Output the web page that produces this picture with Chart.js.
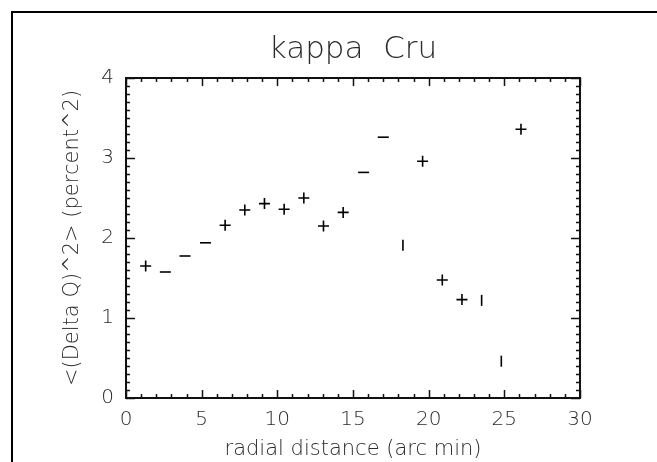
<!DOCTYPE html>
<html>
<head>
<meta charset="utf-8">
<title>kappa Cru</title>
<script src="https://cdn.jsdelivr.net/npm/chart.js@4/dist/chart.umd.min.js"></script>
<style>
  html, body { margin: 0; padding: 0; background: #fff; overflow: hidden; }
  #wrap { position: relative; width: 657px; height: 462px; }
  #frame { position: absolute; left: 11px; top: 11px; width: 800px; height: 600px; border: 2px solid #000; }
  canvas { position: absolute; left: 0; top: 0; }
</style>
</head>
<body>
<div id="wrap">
  <div id="frame"></div>
  <canvas id="myChart" width="657" height="462"></canvas>
</div>
<script>
// radial distance (arc min) and <(Delta Q)^2> (percent^2)
var radius = [1.3, 2.6, 3.9, 5.25, 6.55, 7.85, 9.15, 10.45, 11.75, 13.05,
              14.35, 15.7, 17.0, 18.3, 19.6, 20.9, 22.2, 23.5, 24.8, 26.1];
var deltaQ = [1.65, 1.575, 1.775, 1.94, 2.16, 2.35, 2.43, 2.36, 2.50, 2.15,
              2.32, 2.82, 3.26, 1.91, 2.96, 1.475, 1.23, 1.22, 0.46, 3.36];
// how each plus sign came out in the picture: full, only the bar, only the stem
var marks = ['+', '-', '-', '-', '+', '+', '+', '+', '+', '+',
             '+', '-', '-', '|', '+', '+', '+', '|', '|', '+'];
var xTicks = [0, 5, 10, 15, 20, 25, 30];
var yTicks = [0, 1, 2, 3, 4];

var points = radius.map(function (r, i) { return { x: r, y: deltaQ[i] }; });

// IDL style box: axis lines all round, ticks pointing inward on every side
var boxTicks = {
  id: 'boxTicks',
  afterDraw: function (chart) {
    var ctx = chart.ctx, a = chart.chartArea;
    var xs = chart.scales.x, ys = chart.scales.y;
    ctx.save();
    ctx.strokeStyle = '#111';
    ctx.lineWidth = 2;
    ctx.strokeRect(a.left, a.top, a.right - a.left, a.bottom - a.top);
    ctx.lineWidth = 1.5;
    ctx.beginPath();
    for (var v = xTicks[0]; v <= xTicks[xTicks.length - 1]; v++) {
      var px = Math.round(xs.getPixelForValue(v)) + 0.5;
      var len = v % 5 === 0 ? 8 : 4;
      ctx.moveTo(px, a.bottom); ctx.lineTo(px, a.bottom - len);
      ctx.moveTo(px, a.top); ctx.lineTo(px, a.top + len);
    }
    for (var i = 0; i <= yTicks[yTicks.length - 1] * 10; i++) {
      var py = Math.round(ys.getPixelForValue(i / 10)) + 0.5;
      var l2 = i % 10 === 0 ? 9 : 4;
      ctx.moveTo(a.left, py); ctx.lineTo(a.left + l2, py);
      ctx.moveTo(a.right, py); ctx.lineTo(a.right - l2, py);
    }
    ctx.stroke();
    ctx.restore();
  }
};

var txt = '#2a2a2a';
var face = "'DejaVu Sans', sans-serif";

new Chart("myChart", {
  type: "scatter",
  data: {
    datasets: [{
      data: points,
      borderColor: '#000',
      backgroundColor: '#000',
      borderWidth: 1.6,
      pointRadius: 5.5,
      pointHoverRadius: 5.5,
      pointStyle: marks.map(function (m) { return m === '+' ? 'cross' : 'line'; }),
      rotation: marks.map(function (m) { return m === '|' ? 90 : 0; })
    }]
  },
  plugins: [boxTicks],
  options: {
    responsive: false,
    animation: false,
    events: [],
    layout: { padding: { left: 60, right: 77, top: 0, bottom: 0 } },
    plugins: {
      legend: { display: false },
      tooltip: { enabled: false },
      title: {
        display: true,
        fullSize: false,
        text: "kappa  Cru",
        color: txt,
        font: { family: face, size: 31, weight: 200 },
        padding: { top: 31, bottom: 9.8 }
      }
    },
    scales: {
      x: {
        type: 'linear',
        min: 0,
        max: 30,
        afterFit: function (s) { s.height = 64; },
        afterBuildTicks: function (s) { s.ticks = xTicks.map(function (v) { return { value: v }; }); },
        grid: { display: false, drawTicks: false },
        border: { display: false },
        ticks: { color: txt, padding: 10, maxRotation: 0, font: { family: face, size: 20, weight: 200 } },
        title: {
          display: true,
          text: "radial distance (arc min)",
          color: txt,
          font: { family: face, size: 21, weight: 200 },
          padding: { top: 0, bottom: 0 }
        }
      },
      y: {
        type: 'linear',
        min: 0,
        max: 4,
        afterFit: function (s) { s.width = 66; },
        afterBuildTicks: function (s) { s.ticks = yTicks.map(function (v) { return { value: v }; }); },
        grid: { display: false, drawTicks: false },
        border: { display: false },
        ticks: { color: txt, padding: 12, font: { family: face, size: 20, weight: 200 } },
        title: {
          display: true,
          text: "<(Delta Q)^2> (percent^2)",
          color: txt,
          font: { family: face, size: 21, weight: 200 },
          padding: { top: 0, bottom: 0 }
        }
      }
    }
  }
});
</script>
</body>
</html>
